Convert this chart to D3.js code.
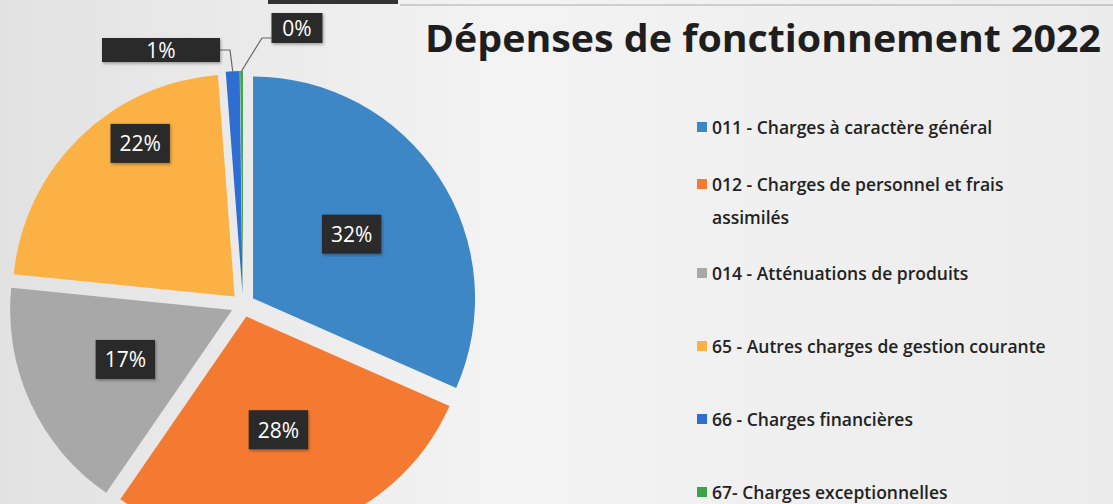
<!DOCTYPE html>
<html lang="fr">
<head>
<meta charset="UTF-8">
<title>Dépenses de fonctionnement 2022</title>
<script src="https://cdn.jsdelivr.net/npm/d3@7/dist/d3.min.js"></script>
<style>
  html, body { margin: 0; padding: 0; background: #ececec; }
  svg { display: block; font-family: "Open Sans", "Noto Sans", sans-serif; }
</style>
</head>
<body>
<div id="chart"></div>
<script>
// data (percent of total spending)
const codes = ["011", "012", "014", "65", "66", "67"];
const categories = [
  "011 - Charges à caractère général",
  "012 - Charges de personnel et frais assimilés",
  "014 - Atténuations de produits",
  "65 - Autres charges de gestion courante",
  "66 - Charges financières",
  "67- Charges exceptionnelles"
];
const legendLines = [
  ["011 - Charges à caractère général"],
  ["012 - Charges de personnel et frais", "assimilés"],
  ["014 - Atténuations de produits"],
  ["65 - Autres charges de gestion courante"],
  ["66 - Charges financières"],
  ["67- Charges exceptionnelles"]
];
const values = [31.6, 28.0, 17.0, 22.2, 1.0, 0.2];
const colors = ["#3d87c7", "#f47a32", "#a8a8a8", "#fbb144", "#2e6ed2", "#3fa24a"];
const title = "Dépenses de fonctionnement 2022";

const width = 1113, height = 504;
const cx = 243, cy = 305, radius = 222, explode = 12;

const svg = d3.select("#chart").append("svg")
  .attr("width", width)
  .attr("height", height);

// paper background
const defs = svg.append("defs");
const bg = defs.append("linearGradient").attr("id", "paper")
  .attr("x1", 0).attr("x2", 1).attr("y1", 0).attr("y2", 0);
bg.append("stop").attr("offset", "0%").attr("stop-color", "#e2e2e2");
bg.append("stop").attr("offset", "45%").attr("stop-color", "#f3f3f3");
bg.append("stop").attr("offset", "100%").attr("stop-color", "#ececec");
svg.append("rect").attr("width", width).attr("height", height).attr("fill", "url(#paper)");

const shadow = defs.append("filter").attr("id", "shadow")
  .attr("x", "-20%").attr("y", "-20%").attr("width", "140%").attr("height", "140%");
shadow.append("feDropShadow").attr("dx", 1).attr("dy", 1.5)
  .attr("stdDeviation", 1.5).attr("flood-color", "#000").attr("flood-opacity", 0.35);

// scanned document bits cut at the top edge
svg.append("rect").attr("x", 268).attr("y", 0).attr("width", 130).attr("height", 4).attr("fill", "#333");
svg.append("line")
  .attr("x1", 400).attr("x2", width).attr("y1", 5).attr("y2", 5)
  .attr("stroke", "#555").attr("stroke-width", 1).attr("opacity", 0.45);

// pie
const pie = d3.pie().sort(null).value(d => d).startAngle(0).endAngle(2 * Math.PI);
const arcs = pie(values);
const total = d3.sum(values);
const arc = d3.arc().innerRadius(0).outerRadius(radius);

const offset = d => {
  const a = (d.startAngle + d.endAngle) / 2;
  return [Math.sin(a) * explode, -Math.cos(a) * explode];
};

const g = svg.append("g").attr("transform", `translate(${cx},${cy})`);

g.selectAll("path.slice")
  .data(arcs)
  .join("path")
  .attr("class", "slice")
  .attr("transform", d => `translate(${offset(d)})`)
  .attr("d", arc)
  .attr("fill", (d, i) => colors[i]);

// data labels
const pct = v => Math.round(v / total * 100) + "%";
const labelG = g.append("g");

function labelBox(x, y, text, minW, h) {
  const t = labelG.append("text")
    .attr("x", x).attr("y", y)
    .attr("text-anchor", "middle")
    .attr("dominant-baseline", "central")
    .attr("font-size", 21)
    .attr("fill", "#fff")
    .text(text);
  const w = Math.max(minW || 0, t.node().getComputedTextLength() + 18);
  labelG.insert("rect", () => t.node())
    .attr("x", x - w / 2).attr("y", y - h / 2)
    .attr("width", w).attr("height", h)
    .attr("fill", "#2b2b2b")
    .attr("filter", "url(#shadow)");
}

// inside labels
arcs.forEach((d, i) => {
  if (values[i] / total < 0.05) return;
  let a = (d.startAngle + d.endAngle) / 2;
  let r = radius * 0.53;
  if (codes[i] === "65") { a += 0.22; r = radius * 0.81; }
  const [ox, oy] = offset(d);
  labelBox(ox + Math.sin(a) * r, oy - Math.cos(a) * r, pct(values[i]), 0, 39);
});

// outside labels with leader lines
const outside = { "66": { x: -82, y: -255, w: 118, h: 24, elbow: [-13, -255] },
                  "67": { x: 54, y: -277, w: 51, h: 30, elbow: [19, -267] } };
arcs.forEach((d, i) => {
  const o = outside[codes[i]];
  if (!o) return;
  const a = (d.startAngle + d.endAngle) / 2;
  const [ox, oy] = offset(d);
  const px = ox + Math.sin(a) * radius, py = oy - Math.cos(a) * radius;
  const edgeX = o.x > 0 ? o.x - o.w / 2 : o.x + o.w / 2;
  labelG.append("polyline")
    .attr("points", [[px, py], o.elbow, [edgeX, o.elbow[1]]].join(" "))
    .attr("fill", "none").attr("stroke", "#666").attr("stroke-width", 1.2);
  labelBox(o.x, o.y, pct(values[i]), o.w, o.h);
});

// title
svg.append("text")
  .attr("x", 425).attr("y", 52)
  .attr("font-size", 38)
  .attr("font-weight", "bold")
  .attr("fill", "#1e1e1e")
  .attr("textLength", 676)
  .attr("lengthAdjust", "spacingAndGlyphs")
  .text(title);

// legend
const ly = d3.scalePoint().domain(codes).range([127, 492]);
const legend = svg.append("g").attr("transform", "translate(697,0)");
const item = legend.selectAll("g").data(codes).join("g")
  .attr("transform", d => `translate(0,${ly(d)})`);
item.append("rect")
  .attr("x", 0).attr("y", (d, i) => (legendLines[i].length > 1 ? -16 : 0) - 5)
  .attr("width", 10).attr("height", 10)
  .attr("fill", (d, i) => colors[i]);
item.each(function (d, i) {
  const lines = legendLines[i];
  const y0 = lines.length > 1 ? -16 : 0;
  d3.select(this).selectAll("text").data(lines).join("text")
    .attr("x", 15)
    .attr("y", (t, j) => y0 + j * 33)
    .attr("dominant-baseline", "central")
    .attr("font-size", 17.5)
    .attr("font-weight", 600)
    .attr("fill", "#222")
    .text(t => t);
});
</script>
</body>
</html>
